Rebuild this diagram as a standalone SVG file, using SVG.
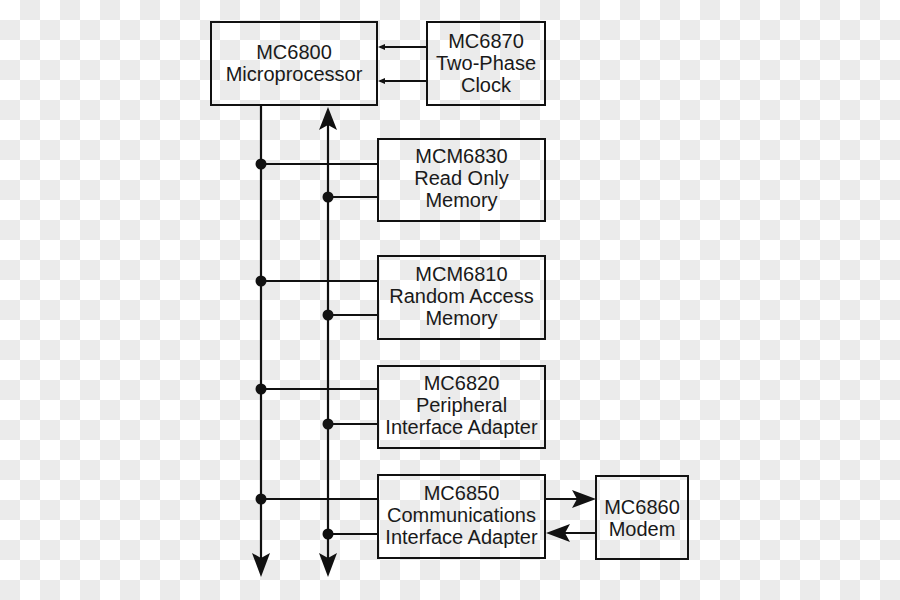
<svg xmlns="http://www.w3.org/2000/svg" width="900" height="600" viewBox="0 0 900 600">
<defs>
<pattern id="chk" width="40" height="40" patternUnits="userSpaceOnUse">
<rect width="40" height="40" fill="#ffffff"/>
<rect x="20" y="0" width="20" height="20" fill="#ebebeb"/>
<rect x="0" y="20" width="20" height="20" fill="#ebebeb"/>
</pattern>
<style>
.box{fill:none;stroke:#111;stroke-width:2}
.ln{fill:none;stroke:#111;stroke-width:2.2}
.thin{fill:none;stroke:#111;stroke-width:2}
.ah{fill:#111}
.t{font-family:"Liberation Sans",Arial,sans-serif;font-size:20px;fill:#1a1a1a;text-anchor:middle}
</style>
</defs>
<rect width="900" height="600" fill="url(#chk)"/>
<g id="connectors">
<line class="thin" x1="427" y1="47" x2="380" y2="47"/>
<polygon class="ah" points="378,47 385,44 385,50"/>
<line class="thin" x1="427" y1="81" x2="380" y2="81"/>
<polygon class="ah" points="378,81 385,78 385,84"/>
<line class="ln" x1="261" y1="105" x2="261" y2="566"/>
<polygon class="ah" points="261,577 252,553 261,558 270,553"/>
<line class="ln" x1="328" y1="118" x2="328" y2="566"/>
<polygon class="ah" points="328,577 319,553 328,558 337,553"/>
<polygon class="ah" points="328,107 319,130 328,125 337,130"/>
<line class="thin" x1="261" y1="164" x2="378" y2="164"/>
<line class="thin" x1="328" y1="197" x2="378" y2="197"/>
<circle class="ah" cx="261" cy="164" r="5.5"/>
<circle class="ah" cx="328" cy="197" r="5.5"/>
<line class="thin" x1="261" y1="281" x2="378" y2="281"/>
<line class="thin" x1="328" y1="315" x2="378" y2="315"/>
<circle class="ah" cx="261" cy="281" r="5.5"/>
<circle class="ah" cx="328" cy="315" r="5.5"/>
<line class="thin" x1="261" y1="389" x2="378" y2="389"/>
<line class="thin" x1="328" y1="424" x2="378" y2="424"/>
<circle class="ah" cx="261" cy="389" r="5.5"/>
<circle class="ah" cx="328" cy="424" r="5.5"/>
<line class="thin" x1="261" y1="499" x2="378" y2="499"/>
<line class="thin" x1="328" y1="534" x2="378" y2="534"/>
<circle class="ah" cx="261" cy="499" r="5.5"/>
<circle class="ah" cx="328" cy="534" r="5.5"/>
<line class="thin" x1="545" y1="499" x2="585" y2="499"/>
<polygon class="ah" points="596,499 572,490 577,499 572,508"/>
<line class="thin" x1="596" y1="533" x2="558" y2="533"/>
<polygon class="ah" points="546,533 570,524 565,533 570,542"/>
</g>
<g id="mc6800">
<rect class="box" x="211" y="22" width="166" height="83"/>
<text class="t" x="294" y="59">MC6800</text>
<text class="t" x="294" y="81">Microprocessor</text>
</g>
<g id="mc6870">
<rect class="box" x="427" y="22" width="118" height="83"/>
<text class="t" x="486" y="48">MC6870</text>
<text class="t" x="486" y="70">Two-Phase</text>
<text class="t" x="486" y="92">Clock</text>
</g>
<g id="mcm6830">
<rect class="box" x="378" y="139" width="167" height="82"/>
<text class="t" x="461.5" y="163">MCM6830</text>
<text class="t" x="461.5" y="185">Read Only</text>
<text class="t" x="461.5" y="207">Memory</text>
</g>
<g id="mcm6810">
<rect class="box" x="378" y="256" width="167" height="83"/>
<text class="t" x="461.5" y="281">MCM6810</text>
<text class="t" x="461.5" y="303">Random Access</text>
<text class="t" x="461.5" y="325">Memory</text>
</g>
<g id="mc6820">
<rect class="box" x="378" y="366" width="167" height="82"/>
<text class="t" x="461.5" y="390">MC6820</text>
<text class="t" x="461.5" y="412">Peripheral</text>
<text class="t" x="461.5" y="434">Interface Adapter</text>
</g>
<g id="mc6850">
<rect class="box" x="378" y="475" width="167" height="83"/>
<text class="t" x="461.5" y="500">MC6850</text>
<text class="t" x="461.5" y="522">Communications</text>
<text class="t" x="461.5" y="544">Interface Adapter</text>
</g>
<g id="mc6860">
<rect class="box" x="596" y="476" width="92" height="83"/>
<text class="t" x="642" y="514">MC6860</text>
<text class="t" x="642" y="536">Modem</text>
</g>
</svg>
